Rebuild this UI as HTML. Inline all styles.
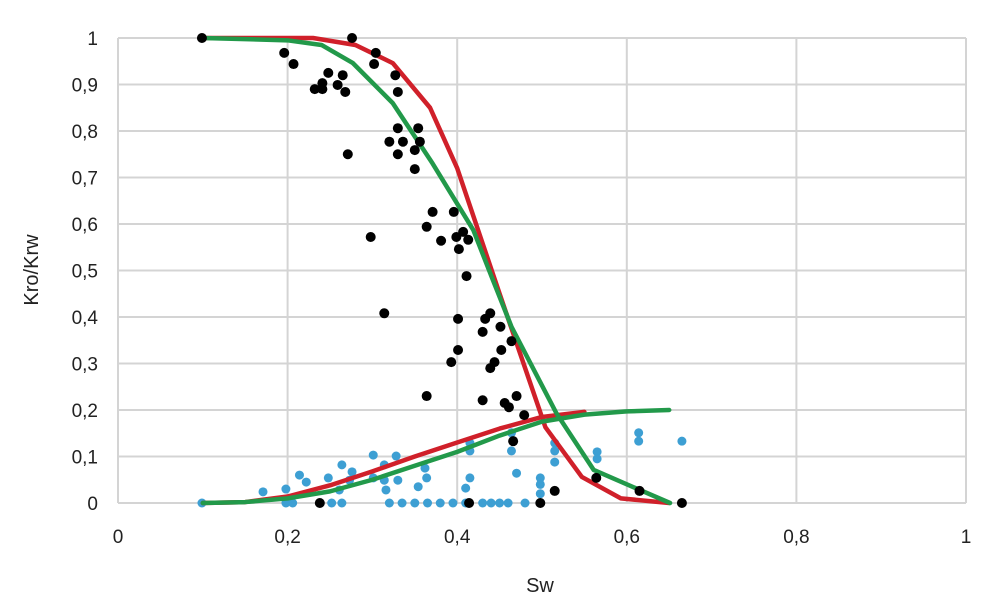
<!DOCTYPE html>
<html><head><meta charset="utf-8"><style>
html,body{margin:0;padding:0;background:#fff;}
svg{display:block;font-family:"Liberation Sans",Arial,sans-serif;}
</style></head><body>
<svg id="chart" width="996" height="596" viewBox="0 0 996 596">
<g id="grid"></g><g id="ticks"></g><g id="series"></g>
<text x="540" y="592" font-size="20" text-anchor="middle" fill="#222">Sw</text>
<text transform="translate(38,270) rotate(-90)" font-size="20" text-anchor="middle" fill="#222">Kro/Krw</text>
</svg>
<script>
const xTicks=[0,0.2,0.4,0.6,0.8,1];
const xTickLabels=["0","0,2","0,4","0,6","0,8","1"];
const yTicks=[0,0.1,0.2,0.3,0.4,0.5,0.6,0.7,0.8,0.9,1];
const yTickLabels=["0","0,1","0,2","0,3","0,4","0,5","0,6","0,7","0,8","0,9","1"];
const oilX=[0.099,0.196,0.207,0.276,0.304,0.302,0.327,0.330,0.248,0.241,0.232,0.241,0.265,0.259,0.268,0.330,0.354,0.320,0.336,0.356,0.330,0.350,0.271,0.350,0.371,0.396,0.364,0.298,0.381,0.399,0.407,0.413,0.402,0.411,0.314,0.401,0.439,0.433,0.430,0.451,0.464,0.401,0.452,0.393,0.444,0.439,0.364,0.430,0.470,0.456,0.461,0.479,0.466,0.515,0.564,0.615,0.238,0.414,0.498,0.665];
const oilY=[1,0.968,0.944,1,0.968,0.944,0.92,0.884,0.925,0.903,0.89,0.89,0.92,0.899,0.884,0.806,0.806,0.777,0.777,0.777,0.75,0.759,0.75,0.718,0.626,0.626,0.594,0.572,0.564,0.572,0.583,0.566,0.546,0.488,0.408,0.396,0.408,0.396,0.368,0.379,0.348,0.329,0.329,0.303,0.303,0.29,0.23,0.221,0.23,0.215,0.206,0.189,0.133,0.026,0.054,0.026,0,0,0,0];
const watX=[0.099,0.171,0.198,0.198,0.206,0.214,0.222,0.248,0.264,0.276,0.273,0.261,0.252,0.264,0.301,0.314,0.328,0.314,0.316,0.301,0.330,0.32,0.335,0.35,0.365,0.38,0.395,0.41,0.354,0.362,0.364,0.415,0.415,0.415,0.41,0.43,0.44,0.45,0.46,0.48,0.464,0.464,0.47,0.498,0.498,0.498,0.515,0.515,0.515,0.565,0.565,0.614,0.614,0.665];
const watY=[0,0.024,0.03,0,0,0.06,0.045,0.054,0.082,0.067,0.049,0.028,0,0,0.103,0.082,0.101,0.049,0.028,0.054,0.049,0,0,0,0,0,0,0,0.035,0.075,0.054,0.129,0.112,0.054,0.032,0,0,0,0,0,0.151,0.112,0.064,0.054,0.04,0.02,0.129,0.112,0.088,0.11,0.095,0.151,0.133,0.133];
const redOilX=[0.1,0.15,0.2,0.23,0.28,0.324,0.368,0.4,0.45,0.504,0.547,0.593,0.65];
const redOilY=[1,1,1,1,0.985,0.946,0.85,0.72,0.45,0.163,0.056,0.01,0];
const greenOilX=[0.1,0.2,0.24,0.277,0.324,0.371,0.419,0.442,0.464,0.517,0.561,0.651];
const greenOilY=[1,0.995,0.985,0.946,0.86,0.73,0.587,0.48,0.379,0.193,0.071,0];
const redWatX=[0.1,0.15,0.2,0.25,0.3,0.35,0.4,0.45,0.5,0.55];
const redWatY=[0,0.002,0.014,0.038,0.068,0.1,0.13,0.16,0.185,0.196];
const greenWatX=[0.1,0.15,0.2,0.25,0.3,0.35,0.4,0.45,0.5,0.55,0.6,0.65];
const greenWatY=[0,0.002,0.01,0.025,0.05,0.08,0.11,0.145,0.175,0.19,0.197,0.2];

const X0=118,X1=966,Y0=503,Y1=38;
const sx=v=>X0+v*(X1-X0), sy=v=>Y0-v*(Y0-Y1);
const NS="http://www.w3.org/2000/svg";
function mk(t,a,p){const e=document.createElementNS(NS,t);for(const k in a)e.setAttribute(k,a[k]);document.getElementById(p).appendChild(e);return e;}
yTicks.forEach((v,i)=>{
 const l=mk('line',{x1:X0,x2:X1,y1:sy(v),y2:sy(v),stroke:'#d4d4d4','stroke-width':2},'grid');
 
 
 const t=mk('text',{x:X0-20,y:sy(v)+7,'font-size':19,'text-anchor':'end',fill:'#222'},'ticks');
 t.textContent=yTickLabels[i];
 
 
});
xTicks.forEach((v,i)=>{
 const l=mk('line',{x1:sx(v),x2:sx(v),y1:Y1,y2:Y0,stroke:'#d4d4d4','stroke-width':2},'grid');
 
 
 const t=mk('text',{x:sx(v),y:543,'font-size':19,'text-anchor':'middle',fill:'#222'},'ticks');
 t.textContent=xTickLabels[i];
 
 
});
watX.forEach((v,i)=>{
 const c=mk('circle',{cx:sx(v),cy:sy(watY[i]),r:4.5,fill:'#3d9fd3'},'series');
 
 
});
function line(xs,ys,col,name){
 const p=mk('polyline',{points:xs.map((v,i)=>sx(v)+','+sy(ys[i])).join(' '),fill:'none',stroke:col,'stroke-width':4.5,'stroke-linejoin':'round','stroke-linecap':'round'},'series');
 
 
}
line(redWatX,redWatY,'#d0202a','red-krw-curve');
line(redOilX,redOilY,'#d0202a','red-kro-curve');
line(greenWatX,greenWatY,'#22994a','green-krw-curve');
line(greenOilX,greenOilY,'#22994a','green-kro-curve');
oilX.forEach((v,i)=>{
 const c=mk('circle',{cx:sx(v),cy:sy(oilY[i]),r:5,fill:'#000'},'series');
 
 
});
</script>
</body></html>
